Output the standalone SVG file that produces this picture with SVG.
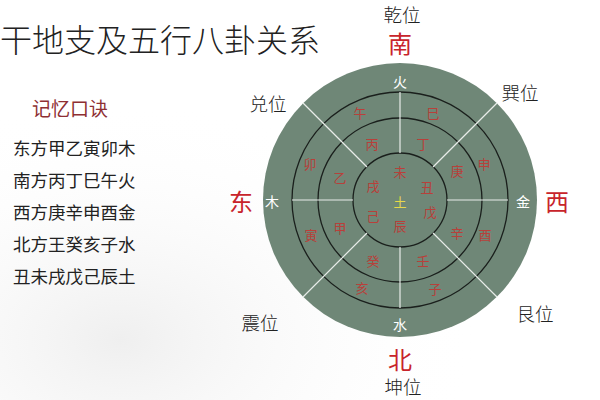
<svg xmlns="http://www.w3.org/2000/svg" width="600" height="400" viewBox="0 0 600 400">
<defs>
<radialGradient id="wash" cx="0.2" cy="0.85" r="0.6">
<stop offset="0" stop-color="#efefef"/>
<stop offset="1" stop-color="#ffffff" stop-opacity="0"/>
</radialGradient>
<style>
text{font-family:"Noto Sans CJK SC","Noto Sans CJK JP",sans-serif;text-anchor:middle;dominant-baseline:central}
.t{fill:#222;font-weight:300}
.lst{fill:#222;font-size:17.5px;text-anchor:start}
.dir{fill:#c8242b;font-size:24px}
.gua{fill:#222;font-size:18.5px;font-weight:300}
.el{fill:#ffffff;font-size:14px}
.br{fill:#b8403a;font-size:13px}
.ring{fill:none;stroke:#1a1f1c;stroke-width:1.3}
.sp{stroke:#e8ece9;stroke-width:1.2}
</style>
</defs>
<rect width="600" height="400" fill="#ffffff"/>
<rect width="600" height="400" fill="url(#wash)"/>
<text class="t" x="0" y="38" style="text-anchor:start;font-size:32px">干地支及五行八卦关系</text>
<text x="32" y="107" style="text-anchor:start;font-size:19px;fill:#8e2f33">记忆口诀</text>
<g id="mnemonic">
<text class="lst" x="13" y="147">东方甲乙寅卯木</text>
<text class="lst" x="13" y="179">南方丙丁巳午火</text>
<text class="lst" x="13" y="211">西方庚辛申酉金</text>
<text class="lst" x="13" y="243">北方王癸亥子水</text>
<text class="lst" x="13" y="275">丑未戌戊己辰土</text>
</g>
<g id="wheel">
<circle cx="400" cy="200" r="137" fill="#6f8777"/>
<circle class="ring" cx="400" cy="200" r="108"/>
<circle class="ring" cx="400" cy="200" r="82"/>
<circle class="ring" cx="400" cy="200" r="47"/>
</g>
<g id="connectors">
<line class="sp" x1="400" y1="153" x2="400" y2="92"/>
<line class="sp" x1="400" y1="247" x2="400" y2="308"/>
<line class="sp" x1="353" y1="200" x2="292" y2="200"/>
<line class="sp" x1="447" y1="200" x2="508" y2="200"/>
<line class="sp" x1="367" y1="167" x2="303" y2="103"/>
<line class="sp" x1="433" y1="167" x2="497" y2="103"/>
<line class="sp" x1="367" y1="233" x2="303" y2="297"/>
<line class="sp" x1="433" y1="233" x2="497" y2="297"/>
</g>
<g id="elements">
<text class="el" x="400" y="81">火</text>
<text class="el" x="523" y="201">金</text>
<text class="el" x="272" y="201">木</text>
<text class="el" x="400" y="324">水</text>
<text x="400" y="201" style="fill:#e8d84a;font-size:13px">土</text>
</g>
<g id="branches">
<text class="br" x="360" y="112">午</text>
<text class="br" x="433" y="112">巳</text>
<text class="br" x="484" y="163">申</text>
<text class="br" x="485" y="234">酉</text>
<text class="br" x="435" y="288">子</text>
<text class="br" x="362" y="287">亥</text>
<text class="br" x="311" y="234">寅</text>
<text class="br" x="310" y="163">卯</text>
</g>
<g id="stems">
<text class="br" x="372" y="143">丙</text>
<text class="br" x="423" y="143">丁</text>
<text class="br" x="457" y="170">庚</text>
<text class="br" x="457" y="232">辛</text>
<text class="br" x="423" y="260">壬</text>
<text class="br" x="373" y="260">癸</text>
<text class="br" x="340" y="227">甲</text>
<text class="br" x="340" y="177">乙</text>
</g>
<g id="earth">
<text class="br" x="400" y="171">未</text>
<text class="br" x="427" y="186">丑</text>
<text class="br" x="430" y="211">戊</text>
<text class="br" x="400" y="225">辰</text>
<text class="br" x="373" y="215">己</text>
<text class="br" x="373" y="185">戌</text>
</g>
<g id="directions">
<text class="dir" x="400" y="42">南</text>
<text class="dir" x="400" y="358">北</text>
<text class="dir" x="241" y="200">东</text>
<text class="dir" x="557" y="200">西</text>
</g>
<g id="trigrams">
<text class="gua" x="402" y="14">乾位</text>
<text class="gua" x="520" y="92">巽位</text>
<text class="gua" x="268" y="103">兑位</text>
<text class="gua" x="260" y="322">震位</text>
<text class="gua" x="535" y="313">艮位</text>
<text class="gua" x="403" y="386">坤位</text>
</g>
</svg>
